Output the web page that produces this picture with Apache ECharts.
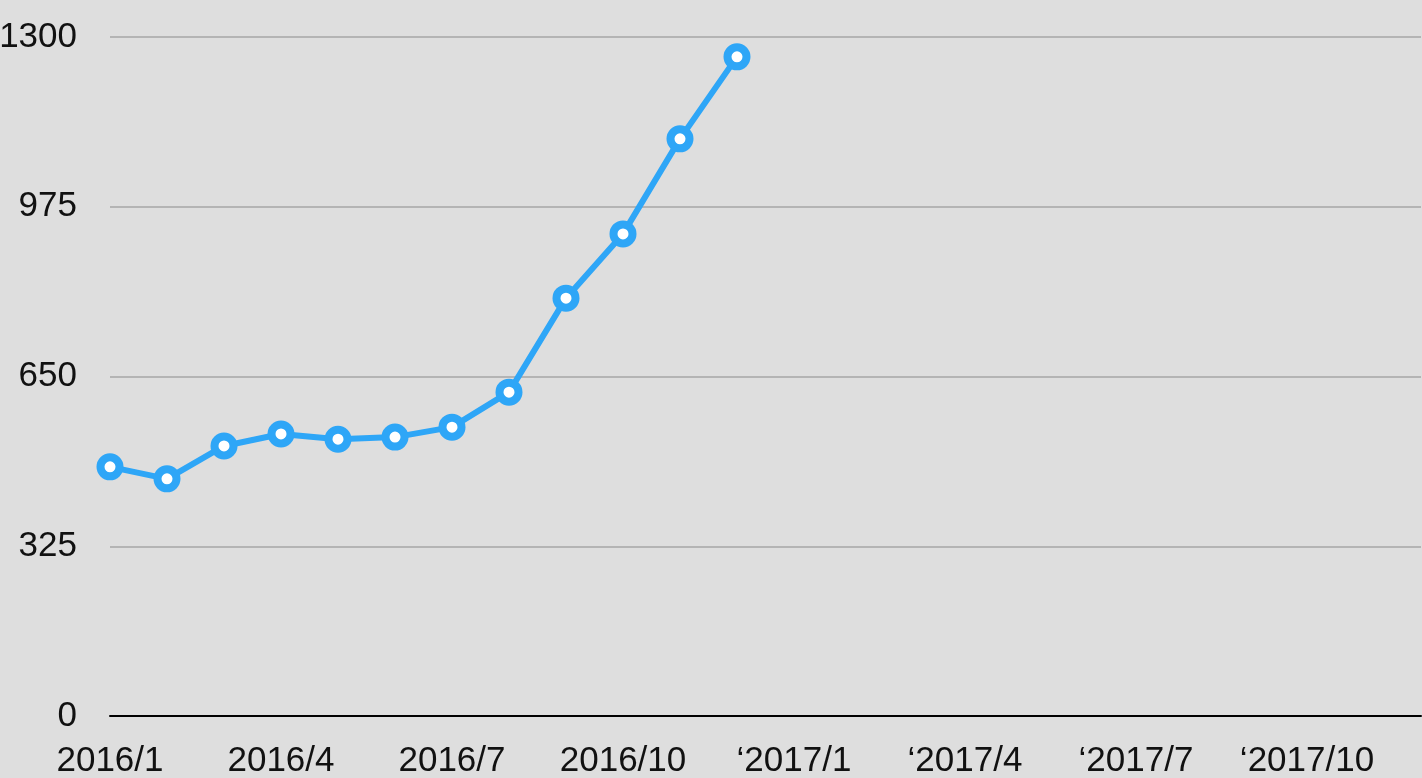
<!DOCTYPE html>
<html>
<head>
<meta charset="utf-8">
<script src="https://cdn.jsdelivr.net/npm/echarts@6/dist/echarts.min.js"></script>
<style>
html,body{margin:0;padding:0;background:#dedede;}
#chart{width:1422px;height:778px;}
</style>
</head>
<body>
<div id="chart"></div>
<script>
var categories = ['2016/1','2016/2','2016/3','2016/4','2016/5','2016/6','2016/7','2016/8','2016/9','2016/10','2016/11','2016/12',
  '\u20182017/1','\u20182017/2','\u20182017/3','\u20182017/4','\u20182017/5','\u20182017/6','\u20182017/7','\u20182017/8','\u20182017/9','\u20182017/10','\u20182017/11','\u20182017/12'];
var values = [477, 454, 517, 540, 530, 534, 553, 620, 800, 923, 1105, 1262];
var yMin = 0, yMax = 1300, yStep = 325;

var chart = echarts.init(document.getElementById('chart'));
chart.setOption({
  backgroundColor: '#dedede',
  animation: false,
  grid: {left: 110, right: 1, top: 37, bottom: 62, containLabel: false, outerBoundsMode: 'none'},
  xAxis: {
    type: 'category',
    data: categories,
    boundaryGap: false,
    axisLine: {lineStyle: {color: '#000', width: 2}},
    axisTick: {show: false},
    axisLabel: {interval: 2, color: '#111', fontSize: 35, fontFamily: 'Liberation Sans, Arial, sans-serif', margin: 28, hideOverlap: false},
    splitLine: {show: false}
  },
  yAxis: {
    type: 'value',
    min: yMin, max: yMax, interval: yStep,
    axisLine: {show: false},
    axisTick: {show: false},
    axisLabel: {color: '#111', fontSize: 35, fontFamily: 'Liberation Sans, Arial, sans-serif', margin: 33, padding: [8, 0, 0, 0], formatter: function (v) { return String(v); }},
    splitLine: {lineStyle: {color: '#b4b4b4', width: 2}}
  },
  series: [{
    type: 'line',
    data: values,
    symbol: 'circle',
    symbolSize: 19,
    lineStyle: {color: '#2ea6f7', width: 6},
    itemStyle: {color: '#ffffff', borderColor: '#2ea6f7', borderWidth: 8},
    z: 5
  }]
});
</script>
</body>
</html>
